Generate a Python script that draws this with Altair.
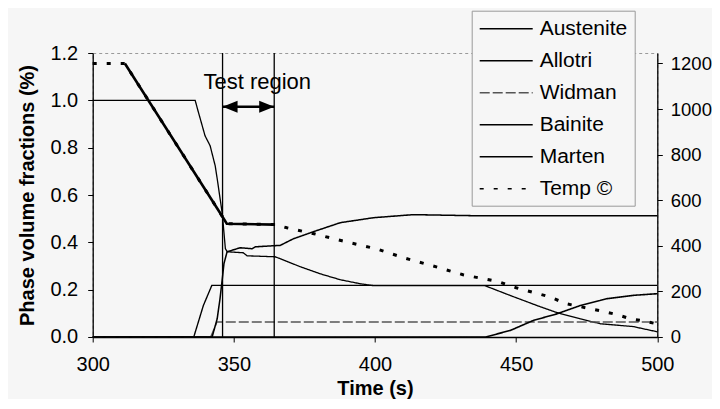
import altair as alt
import pandas as pd

FONT = "Liberation Sans"

series_names = ["Austenite", "Allotri", "Widman", "Bainite", "Marten", "Temp ©"]

austenite_t = [300, 336.3, 337.3, 339.8, 341.6, 343.4, 344.1, 345.9, 347.0, 347.7, 353.3, 354.7,
               364.6, 366.4, 373.5, 380.6, 387.7, 394.8, 399.4, 438.9, 448.0, 458.5, 464.5,
               472.7, 479.8, 491.5, 500]
austenite_v = [1.0, 1.0, 0.956, 0.85, 0.808, 0.723, 0.669, 0.521, 0.373, 0.36, 0.356, 0.343,
               0.339, 0.331, 0.297, 0.267, 0.242, 0.225, 0.217, 0.217, 0.175, 0.128, 0.103,
               0.077, 0.056, 0.044, 0.022]

allotri_t = [300, 335.8, 339.2, 342.2, 500]
allotri_v = [0, 0, 0.133, 0.218, 0.218]

widman_t = [300, 341.8, 344.0, 500]
widman_v = [0, 0, 0.063, 0.063]

bainite_t = [300, 342.3, 344.1, 345.1, 345.8, 346.5, 347.6, 352.2, 356.5, 357.6, 364.6,
             366.4, 371.1, 378.2, 387.7, 399.4, 413.6, 437.5, 500]
bainite_v = [0, 0, 0.077, 0.162, 0.234, 0.31, 0.36, 0.377, 0.373, 0.381, 0.386,
             0.387, 0.415, 0.445, 0.483, 0.504, 0.517, 0.512, 0.512]

marten_t = [300, 439.2, 448.0, 456.1, 464.5, 472.7, 482.3, 491.5, 500]
marten_v = [0, 0, 0.028, 0.07, 0.098, 0.133, 0.162, 0.176, 0.183]

temp_t = [300, 311.4, 345.7, 347.5, 364.6, 368.8, 378.4, 388.3, 400.4, 410.6, 420.2,
          431.2, 443.6, 450.0, 461.7, 467.7, 479.8, 485.8, 490.4, 495.0, 500]
temp_v = [1200, 1200, 533, 497, 493, 479, 453, 422, 387, 346, 313,
          273, 243, 216, 177, 146, 115, 98, 80, 71, 57]

test_region = [346.0, 364.3]
test_label = "Test region"
test_label_pos = (358.3, 1.076)
arrow_level = 0.973

x_ticks = [300, 350, 400, 450, 500]
y_ticks = [0, 0.2, 0.4, 0.6, 0.8, 1.0, 1.2]
temp_ticks = [0, 200, 400, 600, 800, 1000, 1200]

rows = []
for name, ts, vs in [("Austenite", austenite_t, austenite_v), ("Allotri", allotri_t, allotri_v),
                     ("Widman", widman_t, widman_v), ("Bainite", bainite_t, bainite_v),
                     ("Marten", marten_t, marten_v)]:
    for i, (t, v) in enumerate(zip(ts, vs)):
        rows.append({"time": t, "value": v, "series": name, "order": i})
phase_df = pd.DataFrame(rows)
temp_df = pd.DataFrame({"time": temp_t, "temp": temp_v, "series": "Temp ©",
                        "order": list(range(len(temp_t)))})

W, H = 564.6, 284

legend = alt.Legend(title=None, orient="none", legendX=379, legendY=-42.3, direction="vertical",
                    symbolType="M-1,0L4.3,0", symbolSize=400, symbolStrokeWidth=1.6,
                    symbolFillColor="transparent",
                    labelFontSize=21, labelFont=FONT, labelColor="black", labelOffset=39,
                    rowPadding=11, padding=7, strokeColor="#9a9a9a", fillColor="#f6f6f6")

color_scale = alt.Scale(domain=series_names,
                        range=["black", "black", "#555555", "black", "black", "black"])
dash_scale = alt.Scale(domain=series_names,
                       range=[[1, 0], [1, 0], [10, 3], [1, 0], [1, 0], [4, 10]])
width_scale = alt.Scale(domain=series_names[:5], range=[1.3, 1.6, 1.0, 1.9, 1.6])

x_enc = alt.X("time:Q", scale=alt.Scale(domain=[300, 500], nice=False),
              axis=alt.Axis(values=x_ticks, title="Time (s)", grid=False, tickSize=5,
                            labelFontSize=20, labelPadding=13, labelColor="black",
                            titleFontSize=20, titleFontWeight="bold", titlePadding=4,
                            titleColor="black", domainColor="black", tickColor="black",
                            domainWidth=1.3, labelFlush=False))

y_left = alt.Y("value:Q", scale=alt.Scale(domain=[0, 1.2], nice=False),
               axis=alt.Axis(values=y_ticks, format=".1f", title="Phase volume fractions (%)",
                             grid=False, tickSize=5, labelFontSize=20, labelPadding=10,
                             labelColor="black", titleFontSize=20, titleFontWeight="bold",
                             titlePadding=12, titleColor="black", domainColor="black",
                             tickColor="black", domainWidth=1.3))

right_axis = alt.Axis(orient="right", values=temp_ticks, format="d", title=None, grid=False,
                      tickSize=5, labelFontSize=18.5, labelPadding=8, labelColor="black",
                      domainColor="black", tickColor="black", domainWidth=1.3)
temp_scale = alt.Scale(domain=[0, 1246], nice=False)

phase_lines = alt.Chart(phase_df).mark_line().encode(
    x=x_enc, y=y_left,
    color=alt.Color("series:N", scale=color_scale, legend=legend),
    strokeDash=alt.StrokeDash("series:N", scale=dash_scale, legend=legend),
    strokeWidth=alt.StrokeWidth("series:N", scale=width_scale, legend=None),
    order="order:Q",
)

vrules = alt.Chart(pd.DataFrame({"time": test_region})).mark_rule(
    color="black", strokeWidth=1.3).encode(x="time:Q", y=alt.value(0), y2=alt.value(H))

arrow_df = pd.DataFrame({"time": [test_region[0]], "time2": [test_region[1]],
                         "value": [arrow_level]})
arrow_shaft = alt.Chart(arrow_df).mark_rule(color="black", strokeWidth=2.5).encode(
    x="time:Q", x2="time2:Q", y="value:Q")
head_l = alt.Chart(arrow_df).mark_point(
    shape="M0,0L2,-0.8L2,0.8Z", filled=True, color="black", size=225, opacity=1).encode(
    x="time:Q", y="value:Q")
head_r = alt.Chart(arrow_df).mark_point(
    shape="M0,0L-2,-0.8L-2,0.8Z", filled=True, color="black", size=225, opacity=1).encode(
    x="time2:Q", y="value:Q")

label_df = pd.DataFrame({"time": [test_label_pos[0]], "value": [test_label_pos[1]],
                         "label": [test_label]})
label = alt.Chart(label_df).mark_text(fontSize=22, font=FONT, color="black",
                                      align="center", baseline="middle").encode(
    x="time:Q", y="value:Q", text="label:N")

phase_group = alt.layer(phase_lines, vrules, arrow_shaft, head_l, head_r, label)

temp_dashed = alt.Chart(temp_df).mark_line(strokeWidth=3).encode(
    x="time:Q",
    y=alt.Y("temp:Q", scale=temp_scale, axis=right_axis),
    color=alt.Color("series:N", scale=color_scale, legend=legend),
    strokeDash=alt.StrokeDash("series:N", scale=dash_scale, legend=legend),
    order="order:Q",
)
temp_solid = alt.Chart(temp_df).transform_filter(
    (alt.datum.time >= 311) & (alt.datum.time <= 365)
).mark_line(strokeWidth=2.6, color="black").encode(
    x="time:Q",
    y=alt.Y("temp:Q", scale=temp_scale, axis=right_axis),
    order="order:Q",
)
temp_group = alt.layer(temp_dashed, temp_solid)

chart = alt.layer(phase_group, temp_group).resolve_scale(y="independent").properties(
    width=W, height=H,
    autosize=alt.AutoSizeParams(type="none"),
    padding={"left": 84.7, "top": 45, "right": 54.5, "bottom": 62},
    background="#f6f6f6",
).configure(font=FONT).configure_view(stroke="#9a9a9a", strokeDash=[3, 3])

chart.save("out.html", embed_options={"renderer": "svg", "actions": False})
